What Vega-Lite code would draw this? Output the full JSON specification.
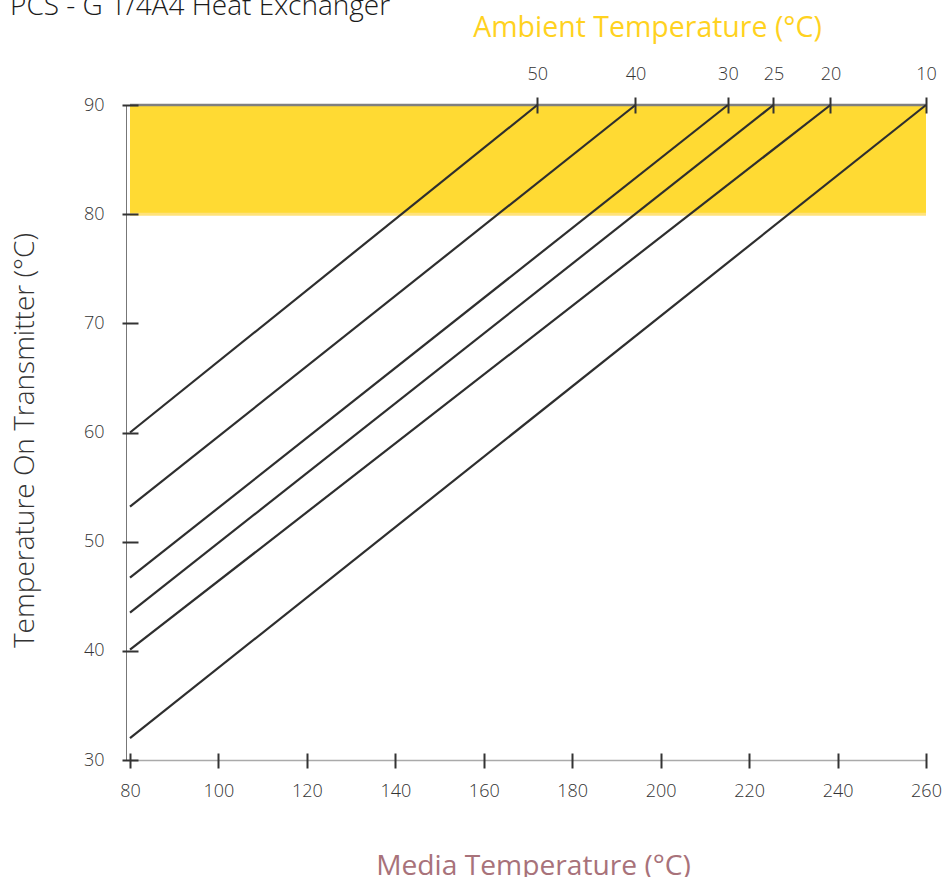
{
  "$schema": "https://vega.github.io/schema/vega-lite/v6.json",
  "autosize": "none",
  "width": 796,
  "height": 655,
  "padding": {"left": 130, "top": 105, "right": 17, "bottom": 117},
  "background": "white",
  "config": {
    "font": "Open Sans",
    "view": {"stroke": null},
    "axis": {"labelFont": "Open Sans", "titleFont": "Open Sans", "labelColor": "#333", "labelFontSize": 18, "labelFontWeight": 300, "titleFontWeight": 300, "labelFlush": false, "labelOverlap": false, "grid": false}
  },
  "title": {
    "text": "PCS - G 1/4A4 Heat Exchanger",
    "anchor": "start",
    "frame": "group",
    "fontSize": 28,
    "fontWeight": 300,
    "color": "#1a1a1a",
    "dx": -120,
    "dy": 12
  },
  "datasets": {
    "band": [{"x": 80, "x2": 260, "y": 80, "y2": 90}],
    "curves": [
      {"ambient": "50", "media": 80, "temp": 60.0},
      {"ambient": "50", "media": 172.1, "temp": 90},
      {"ambient": "40", "media": 80, "temp": 53.2},
      {"ambient": "40", "media": 194.3, "temp": 90},
      {"ambient": "30", "media": 80, "temp": 46.7},
      {"ambient": "30", "media": 215.2, "temp": 90},
      {"ambient": "25", "media": 80, "temp": 43.5},
      {"ambient": "25", "media": 225.5, "temp": 90},
      {"ambient": "20", "media": 80, "temp": 40.1},
      {"ambient": "20", "media": 238.4, "temp": 90},
      {"ambient": "10", "media": 80, "temp": 32.0},
      {"ambient": "10", "media": 260, "temp": 90}
    ]
  },
  "resolve": {"axis": {"x": "independent", "y": "independent"}},
  "layer": [
    {
      "data": {"name": "band"},
      "mark": {"type": "rect", "color": "#FFDA33"},
      "encoding": {
        "x": {"field": "x", "type": "quantitative", "scale": {"domain": [80, 260], "nice": false, "zero": false},
          "axis": {"orient": "bottom", "values": [80, 100, 120, 140, 160, 180, 200, 220, 240, 260], "ticks": false, "domainColor": "#aaa", "domainWidth": 1.5, "labelPadding": 22, "title": "Media Temperature (°C)", "titleFontSize": 28.2, "titleFontWeight": 400, "titleColor": "#A8727A", "titleBaseline": "alphabetic", "titleX": 403, "titleY": 114}},
        "x2": {"field": "x2"},
        "y": {"field": "y", "type": "quantitative", "scale": {"domain": [30, 90], "nice": false, "zero": false},
          "axis": {"orient": "left", "values": [30, 40, 50, 60, 70, 80, 90], "ticks": false, "offset": 4, "domainColor": "#777", "domainWidth": 1, "labelPadding": 22, "title": "Temperature On Transmitter (°C)", "titleFontSize": 28, "titleColor": "#333", "titleBaseline": "middle", "titleX": -101, "titleY": 335, "titleAngle": -90}},
        "y2": {"field": "y2"}
      }
    },
    {
      "data": {"name": "band"},
      "mark": {"type": "rule", "color": "#FFE27A", "strokeWidth": 3},
      "encoding": {
        "x": {"field": "x", "type": "quantitative", "scale": {"domain": [80, 260], "nice": false, "zero": false},
          "axis": {"orient": "bottom", "values": [80, 100, 120, 140, 160, 180, 200, 220, 240, 260], "domain": false, "labels": false, "title": null, "tickColor": "#333", "tickWidth": 2, "tickSize": 15, "offset": -7, "zindex": 2}},
        "x2": {"field": "x2"},
        "y": {"field": "y", "type": "quantitative", "scale": {"domain": [30, 90], "nice": false, "zero": false},
          "axis": {"orient": "left", "values": [30, 40, 50, 60, 70, 80, 90], "domain": false, "labels": false, "title": null, "tickColor": "#333", "tickWidth": 2, "tickSize": 16, "offset": -8, "zindex": 2}}
      }
    },
    {
      "data": {"name": "band"},
      "mark": {"type": "rule", "color": "#7f7f7f", "strokeWidth": 2.5},
      "encoding": {
        "x": {"field": "x", "type": "quantitative", "scale": {"domain": [80, 260], "nice": false, "zero": false}, "axis": null},
        "x2": {"field": "x2"},
        "y": {"field": "y2", "type": "quantitative", "scale": {"domain": [30, 90], "nice": false, "zero": false}, "axis": null}
      }
    },
    {
      "data": {"name": "curves"},
      "mark": {"type": "line", "color": "#2e2e2e", "strokeWidth": 2.2},
      "encoding": {
        "detail": {"field": "ambient"},
        "x": {"field": "media", "type": "quantitative", "scale": {"domain": [80, 260], "nice": false, "zero": false},
          "axis": {"orient": "top", "values": [172.1, 194.3, 215.2, 225.5, 238.4, 260],
            "labelExpr": "datum.value < 180 ? '50' : datum.value < 200 ? '40' : datum.value < 220 ? '30' : datum.value < 230 ? '25' : datum.value < 250 ? '20' : '10'",
            "domain": false, "tickColor": "#333", "tickWidth": 2, "tickSize": 16, "offset": -8, "labelPadding": 14, "zindex": 2,
            "title": "Ambient Temperature (°C)", "titleFontSize": 28.5, "titleFontWeight": 400, "titleColor": "#FFD21F", "titleBaseline": "alphabetic", "titleX": 517, "titleY": -77}},
        "y": {"field": "temp", "type": "quantitative", "scale": {"domain": [30, 90], "nice": false, "zero": false}, "axis": null}
      }
    }
  ]
}
